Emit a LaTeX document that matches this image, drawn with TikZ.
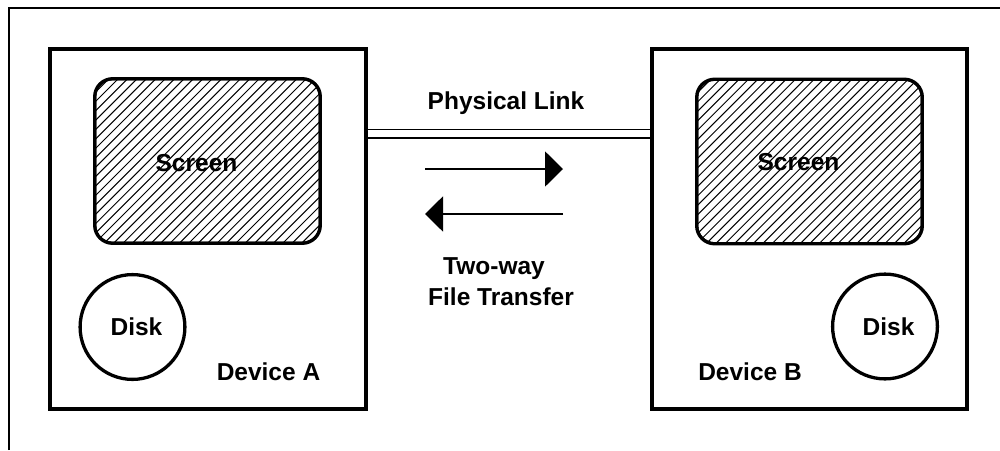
\documentclass[tikz,border=0pt]{standalone}
\usepackage{fontspec}
\setmainfont{Liberation Sans}
\usetikzlibrary{arrows.meta,calc}

\tikzset{
  device/.style={draw, line width=2pt, minimum width=157.7pt, minimum height=179.8pt, inner sep=0pt},
  screenbox/.style={draw, line width=1.65pt, rounded corners=9pt, minimum width=112.8pt, minimum height=82.3pt, inner sep=0pt,
    path picture={
      \foreach \k in {-19,...,26}{
        \draw[line width=0.5pt] ([xshift=\k*4.7pt]path picture bounding box.south west) -- ++(95pt,95pt);
      }
      \draw[line width=1.65pt, rounded corners=9pt] (path picture bounding box.south west) rectangle (path picture bounding box.north east);
    }},
  disk/.style={draw, circle, line width=1.65pt, minimum size=52.4pt, inner sep=0pt},
  lbl/.style={inner sep=0pt, anchor=base, font=\fontsize{12.25}{14}\selectfont\bfseries},
  link/.style={double, line width=0.75pt, double distance=3.5pt},
  flow/.style={line width=1pt, -{Triangle[length=9pt,width=17.5pt]}}
}

\begin{document}
\begin{tikzpicture}[x=0.5pt, y=-0.5pt]
  \useasboundingbox (0,0) rectangle (1000,450);

  % outer frame (top and left edges)
  \draw[line width=1pt] (9,450) -- (9,7.8) -- (1000,7.8);

  % the two devices
  \node[device] (devA) at (208,229.2) {};
  \node[device] (devB) at (809.5,229.2) {};

  % screens
  \node[screenbox] (scrA) at (207.5,161) {};
  \node[screenbox] (scrB) at (809.5,161.5) {};
  \node[lbl] (scrAtxt) at (196.5,171) {Screen};
  \node[lbl] (scrBtxt) at (798.5,170.5) {Screen};

  % disks
  \node[disk] (diskA) at (132.5,327) {};
  \node[disk] (diskB) at (885,326.5) {};
  \node[lbl] (diskAtxt) at (136.5,335) {Disk};
  \node[lbl] (diskBtxt) at (888.5,335) {Disk};

  % device names
  \node[lbl] (nameA) at (268.5,380) {Device A};
  \node[lbl] (nameB) at (750,380) {Device B};

  % physical link between the devices
  \draw[link] (devA.east |- 0,133.75) -- (devB.west |- 0,133.75);
  \node[lbl] (linktxt) at (506,109) {Physical Link};

  % two-way transfer arrows
  \coordinate (r1) at (425,169);
  \coordinate (r2) at (563,169);
  \coordinate (l1) at (563,214);
  \coordinate (l2) at (425,214);
  \draw[flow] (r1) -- (r2);
  \draw[flow] (l1) -- (l2);
  \node[lbl] (xfer1) at (494,274) {Two-way};
  \node[lbl] (xfer2) at (501,305) {File Transfer};
\end{tikzpicture}
\end{document}
